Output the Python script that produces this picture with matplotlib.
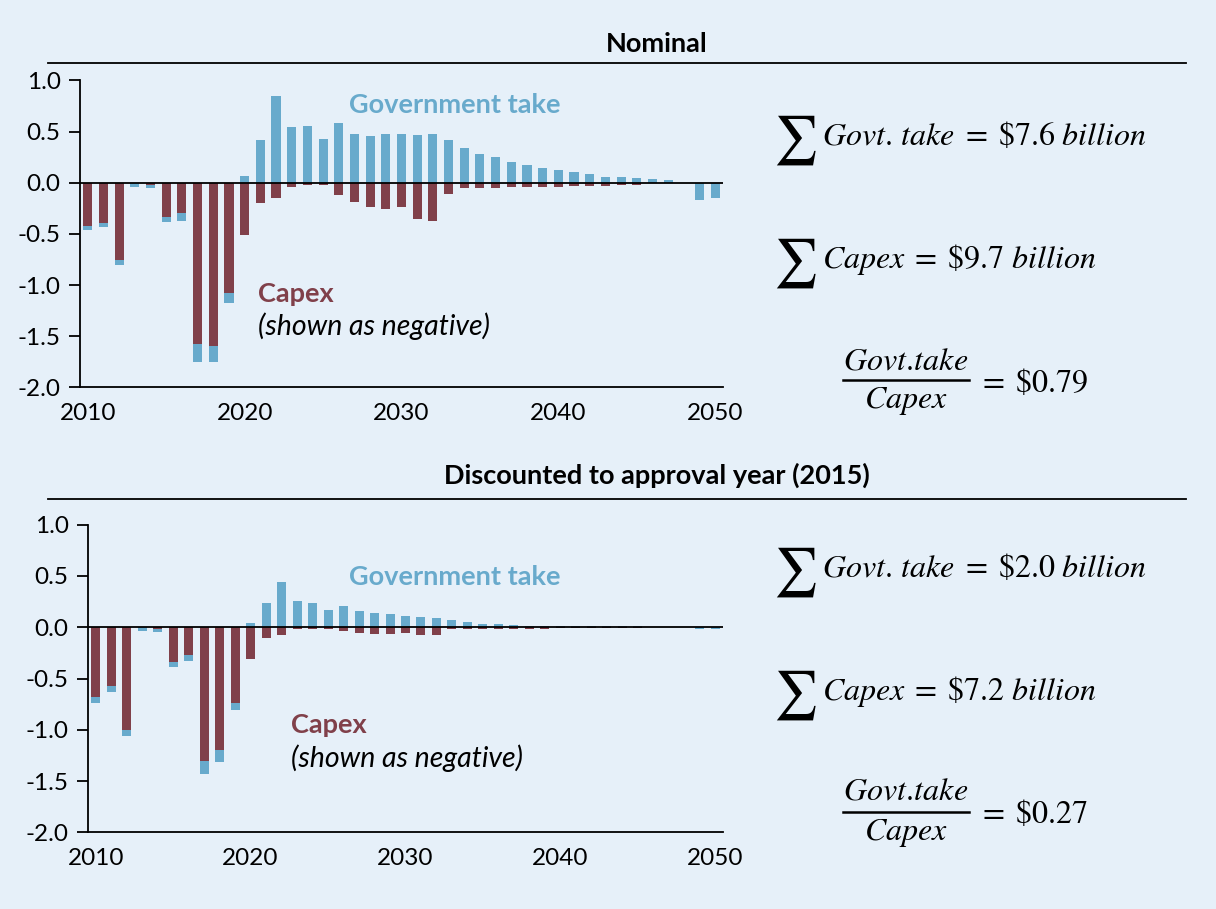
import numpy as np
import matplotlib
matplotlib.use("Agg")
import matplotlib.pyplot as plt
from matplotlib.lines import Line2D

plt.rcParams['font.family'] = ['Lato', 'DejaVu Sans']
plt.rcParams['mathtext.fontset'] = 'stix'
plt.rcParams['axes.unicode_minus'] = False

# ---------------- data ----------------
years = list(range(2010, 2051))

nominal_capex = [0.42, 0.39, 0.76, 0.00, 0.02, 0.335, 0.30, 1.58, 1.60, 1.08,
                 0.51, 0.20, 0.15, 0.04, 0.02, 0.02, 0.12, 0.19, 0.24, 0.26,
                 0.235, 0.35, 0.37, 0.11, 0.05, 0.05, 0.05, 0.04, 0.04, 0.04,
                 0.04, 0.03, 0.03, 0.03, 0.02, 0.02, 0.007, 0.003, 0.0, 0.0, 0.0]
nominal_govt = [-0.04, -0.04, -0.04, -0.04, -0.03, -0.05, -0.07, -0.17, -0.15, -0.10,
                0.065, 0.42, 0.85, 0.54, 0.555, 0.43, 0.58, 0.475, 0.455, 0.475,
                0.475, 0.465, 0.475, 0.415, 0.34, 0.28, 0.25, 0.20, 0.175, 0.145,
                0.125, 0.105, 0.085, 0.055, 0.055, 0.045, 0.035, 0.025, -0.005, -0.165, -0.145]

disc_capex = [0.68, 0.575, 1.005, 0.00, 0.02, 0.34, 0.275, 1.30, 1.20, 0.74,
              0.31, 0.105, 0.075, 0.016, 0.016, 0.016, 0.036, 0.055, 0.065, 0.067,
              0.06, 0.078, 0.078, 0.02, 0.02, 0.02, 0.02, 0.02, 0.02, 0.02,
              0.005, 0.005, 0.005, 0.005, 0.004, 0.004, 0.002, 0.0, 0.0, 0.0, 0.0]
disc_govt = [-0.055, -0.055, -0.055, -0.036, -0.026, -0.046, -0.055, -0.133, -0.114, -0.066,
             0.039, 0.234, 0.439, 0.254, 0.234, 0.166, 0.205, 0.156, 0.137, 0.125,
             0.114, 0.104, 0.094, 0.075, 0.055, 0.036, 0.036, 0.026, 0.016, 0.016,
             0.016, 0.016, 0.010, 0.010, 0.008, 0.008, 0.006, 0.005, -0.001, -0.02, -0.02]

panel_titles = ["Nominal", "Discounted to approval year (2015)"]
sum_govt_labels = ["7.6", "2.0"]
sum_capex_labels = ["9.7", "7.2"]
ratio_labels = ["0.79", "0.27"]
yticks = [1.0, 0.5, 0.0, -0.5, -1.0, -1.5, -2.0]
xticks = [2010, 2020, 2030, 2040, 2050]

# ---------------- style ----------------
BG = "#E6F0F9"
BLUE = "#68AACC"
RED = "#80404A"
W, H = 1216, 909

fig = plt.figure(figsize=(W / 100, H / 100), dpi=100, facecolor=BG)


def fx(x):
    return x / W


def fy(y):
    return 1 - y / H


def draw_panel(rect, capex, govt):
    ax = fig.add_axes(rect)
    ax.set_facecolor(BG)
    yrs = np.array(years)
    cap = -np.array(capex)
    gov = np.array(govt)
    gov_bottom = np.where(gov < 0, cap, 0.0)
    ax.bar(yrs, cap, width=0.58, color=RED, zorder=2)
    ax.bar(yrs, gov, bottom=gov_bottom, width=0.58, color=BLUE, zorder=2)
    ax.axhline(0, color="black", lw=1.3, zorder=3)
    ax.set_xlim(2009.5, 2050.5)
    ax.set_ylim(-2.0, 1.0)
    ax.set_yticks(yticks)
    ax.set_yticklabels([f"{v:.1f}" for v in yticks])
    ax.set_xticks(xticks)
    ax.set_xticklabels([str(v) for v in xticks])
    for s in ("top", "right"):
        ax.spines[s].set_visible(False)
    for s in ("left", "bottom"):
        ax.spines[s].set_linewidth(1.3)
        ax.spines[s].set_color("black")
    ax.tick_params(axis="y", length=8, width=1.3, labelsize=17.5, pad=6)
    ax.tick_params(axis="x", length=0, labelsize=17.5, pad=11)
    return ax


ax1 = draw_panel([fx(80), fy(387.3), fx(723 - 80), (387.3 - 80.4) / H], nominal_capex, nominal_govt)
ax2 = draw_panel([fx(88), fy(832.3), fx(723 - 88), (832.3 - 524.7) / H], disc_capex, disc_govt)

# titles and rules
title_y = [51.5, 484]
rule_y = [63, 499]
for t, ty, ry in zip(panel_titles, title_y, rule_y):
    fig.text(fx(657), fy(ty), t, ha="center", va="baseline", fontsize=19.5, fontweight="bold")
    fig.add_artist(Line2D([fx(48), fx(1186)], [fy(ry), fy(ry)], color="black", lw=1.3))

# in-chart labels
fig.text(fx(349), fy(113), "Government take", color=BLUE, fontsize=19.5, fontweight="bold", va="baseline")
fig.text(fx(258), fy(301.5), "Capex", color=RED, fontsize=19.5, fontweight="bold", va="baseline")
fig.text(fx(258), fy(335), "(shown as negative)", color="black", fontsize=20.5, style="italic", va="baseline")

fig.text(fx(349), fy(585), "Government take", color=BLUE, fontsize=19.5, fontweight="bold", va="baseline")
fig.text(fx(291), fy(733), "Capex", color=RED, fontsize=19.5, fontweight="bold", va="baseline")
fig.text(fx(291), fy(767), "(shown as negative)", color="black", fontsize=20.5, style="italic", va="baseline")

# formulas
FS = 23
sum_rows = [(145, 268), (577, 700)]
frac_rows = [(369, 380, 408, 392), (800, 812, 840, 823)]
for i in range(2):
    gb, cb = sum_rows[i]
    for base, txt in ((gb, r"$Govt.\,take\;=\;\$" + sum_govt_labels[i] + r"\ billion$"),
                      (cb, r"$Capex\;=\;\$" + sum_capex_labels[i] + r"\ billion$")):
        fig.text(fx(773), fy(base + 8), r"$\sum$", fontsize=35, va="baseline", ha="left")
        fig.text(fx(822), fy(base), txt, fontsize=FS, va="baseline", ha="left")
    nb, ly, db, eb = frac_rows[i]
    fig.text(fx(906), fy(nb), r"$Govt.\!take$", fontsize=FS, va="baseline", ha="center")
    fig.add_artist(Line2D([fx(843), fx(969)], [fy(ly), fy(ly)], color="black", lw=1.8))
    fig.text(fx(906), fy(db), r"$Capex$", fontsize=FS, va="baseline", ha="center")
    fig.text(fx(978), fy(eb), r"$=\;\$" + ratio_labels[i] + r"$", fontsize=FS, va="baseline", ha="left")

fig.savefig("out.png", dpi=100, facecolor=BG)
